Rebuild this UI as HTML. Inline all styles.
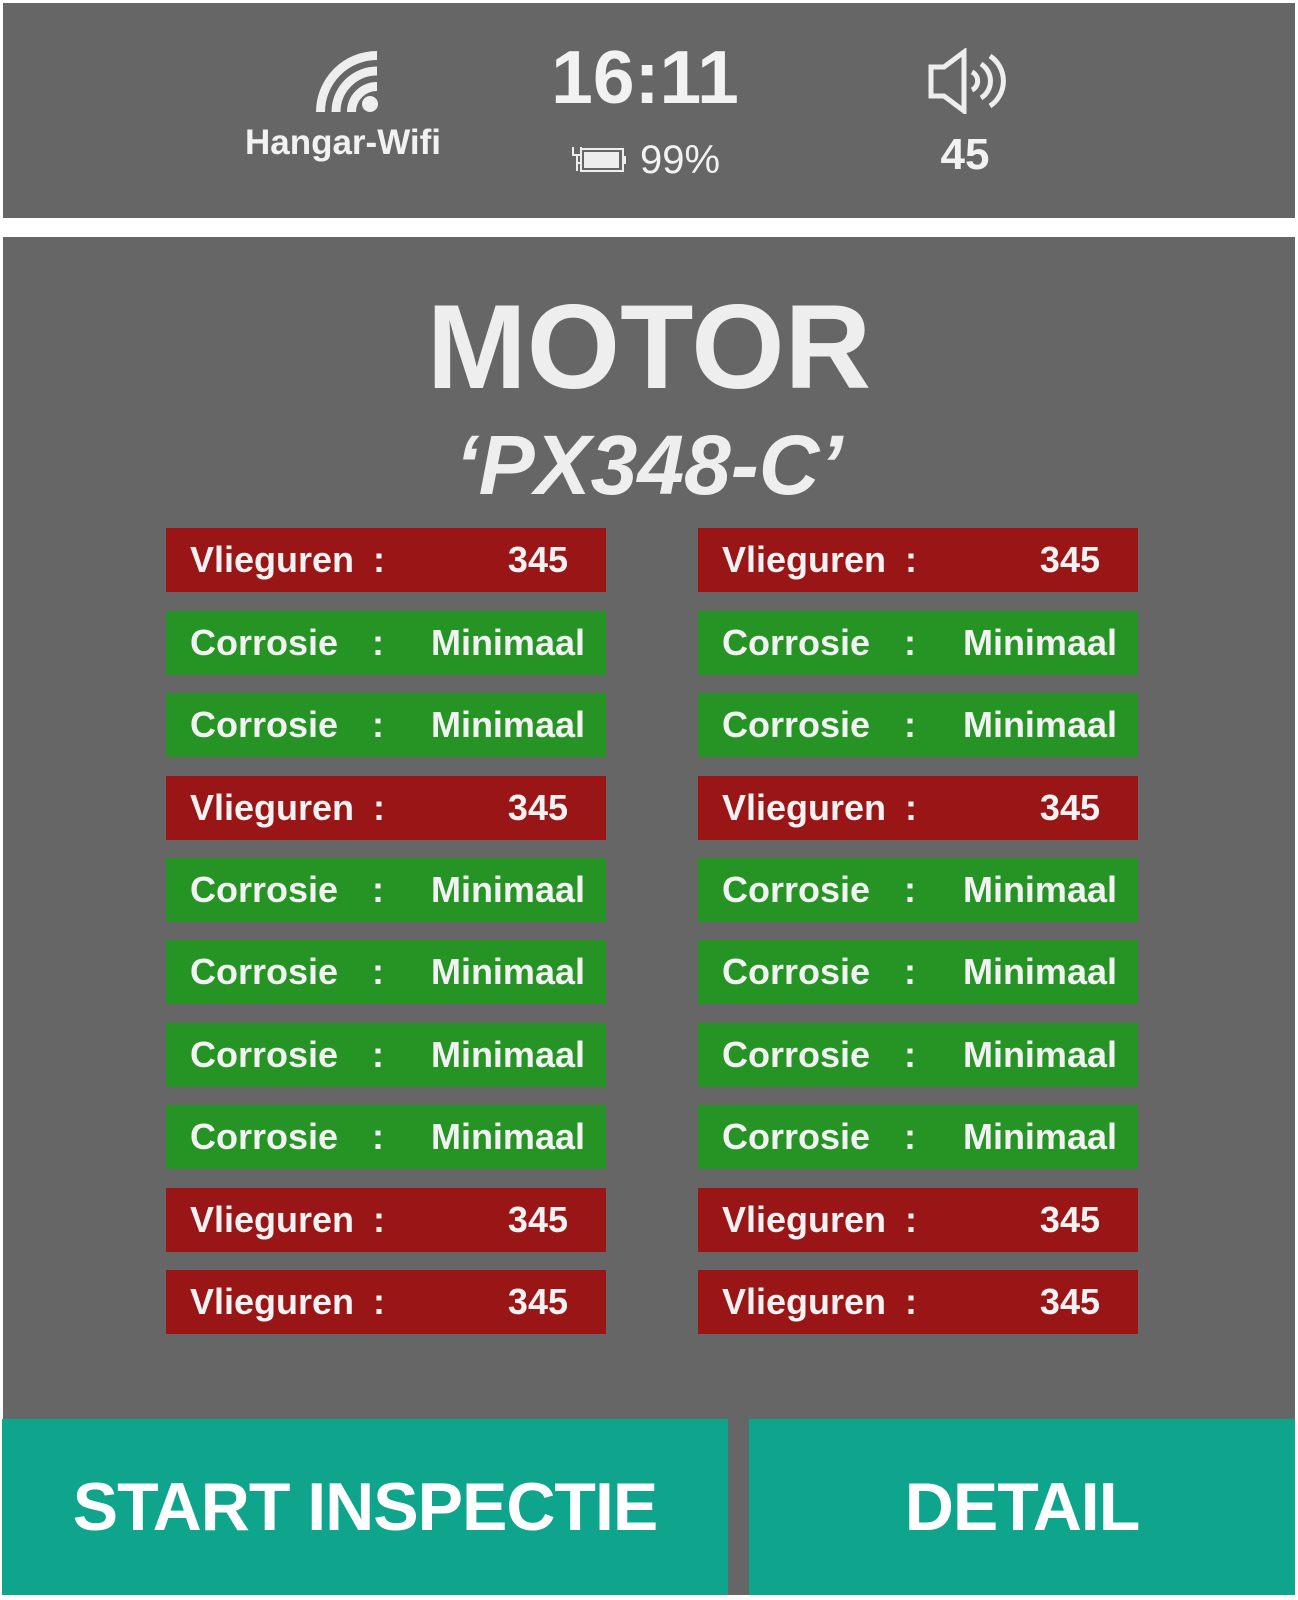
<!DOCTYPE html>
<html><head><meta charset="utf-8">
<style>
body{margin:0;width:1298px;height:1600px;background:#fff;position:relative;overflow:hidden;font-family:"Liberation Sans",sans-serif;color:#f2f2f2}
.abs{position:absolute}
.row{position:absolute;width:440px;height:64px;font-weight:bold;font-size:36px;line-height:64px}
.row span{position:absolute;top:0;white-space:nowrap}
.red{background:#9a1515}.green{background:#259424}
.btn{position:absolute;top:1419px;height:176px;background:#0ea58c;font-weight:bold;font-size:68px;letter-spacing:-1px;line-height:176px;text-align:center;color:#fff}
</style></head><body>
<div class="abs" style="left:3px;top:3px;width:1292px;height:215px;background:#666"></div>
<svg class="abs" style="left:300px;top:40px" width="90" height="80" viewBox="300 40 90 80">
<g fill="none" stroke="#eee" stroke-width="9">
<path d="M320.5 112 A56.5 56.5 0 0 1 377 55.5"/>
<path d="M336 112 A41 41 0 0 1 377 71"/>
<path d="M351.5 112 A25.5 25.5 0 0 1 377 86.5"/>
</g><circle cx="370" cy="104" r="8" fill="#eee"/></svg>
<div class="abs" style="left:193px;width:300px;top:123px;font-size:35px;font-weight:bold;text-align:center">Hangar-Wifi</div>
<div class="abs" style="left:495px;width:300px;top:35px;font-size:75px;font-weight:bold;text-align:center;line-height:84px">16:11</div>
<svg class="abs" style="left:568px;top:143px" width="60" height="32">
<path d="M5 4 v8 h8 v-8 M9 12 v16 M9 20 h3" stroke="#eee" stroke-width="2" fill="none"/>
<rect x="13" y="6" width="42" height="22" fill="none" stroke="#eee" stroke-width="2"/>
<rect x="16" y="9" width="35" height="16" fill="#eee"/><rect x="55" y="13" width="3" height="8" fill="#eee"/></svg>
<div class="abs" style="left:640px;top:137px;font-size:40px;line-height:46px">99%</div>
<svg class="abs" style="left:925px;top:48px" width="85" height="66" viewBox="925 48 85 66">
<path d="M931 67 h13 l20 -15 v59 l-20 -15 h-13 z" fill="none" stroke="#eee" stroke-width="5"/>
<g fill="none" stroke="#eee" stroke-width="5"><path d="M972 72 a10 10 0 0 1 0 18"/><path d="M981 64 a20 20 0 0 1 0 34"/><path d="M990 56 a30 30 0 0 1 0 50"/></g></svg>
<div class="abs" style="left:915px;width:100px;top:130px;font-size:44px;font-weight:bold;text-align:center;line-height:50px">45</div>

<div class="abs" style="left:3px;top:237px;width:1292px;height:1358px;background:#666"></div>
<div class="abs" style="left:0;width:1298px;top:282px;font-size:120px;font-weight:bold;text-align:center;line-height:130px;color:#eee">MOTOR</div>
<div class="abs" style="left:0;width:1298px;top:418px;font-size:84px;font-weight:bold;font-style:italic;text-align:center;line-height:94px;color:#eee">‘PX348-C’</div>

<div id="rows"></div>

<div class="btn" style="left:2px;width:726px">START INSPECTIE</div>
<div class="btn" style="left:749px;width:546px">DETAIL</div>
<script>
const rowLabels=["Vlieguren","Corrosie","Corrosie","Vlieguren","Corrosie","Corrosie","Corrosie","Corrosie","Vlieguren","Vlieguren"];
const rowValues=["345","Minimaal","Minimaal","345","Minimaal","Minimaal","Minimaal","Minimaal","345","345"];
const rowTops=[528,611,693,776,858,940,1023,1105,1188,1270];
const cols=[166,698];
const host=document.getElementById('rows');
cols.forEach((x,ci)=>{
  rowLabels.forEach((lab,i)=>{
    const red=lab==="Vlieguren";
    const d=document.createElement('div');
    d.className='row '+(red?'red':'green');
    d.style.left=x+'px';d.style.top=rowTops[i]+'px';
    
    
    d.innerHTML='<span style="left:24px">'+lab+'</span><span style="left:'+(red?207:206)+'px">:</span><span style="right:'+(red?38:21)+'px">'+rowValues[i]+'</span>';
    host.appendChild(d);
  });
});
</script>
</body></html>
